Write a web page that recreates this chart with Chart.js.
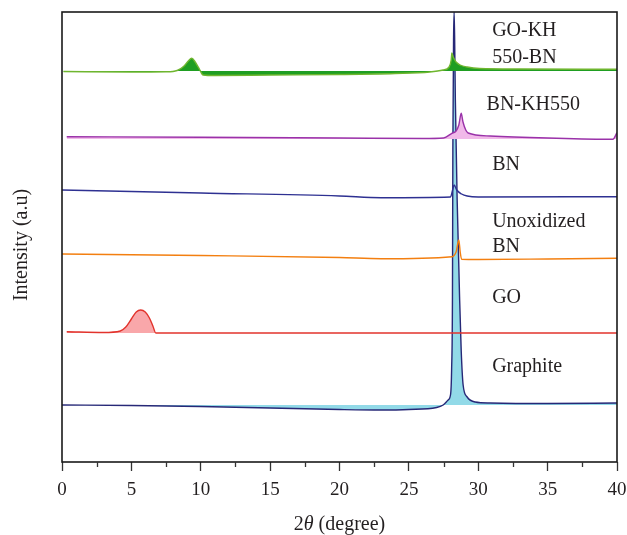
<!DOCTYPE html>
<html>
<head>
<meta charset="utf-8">
<script src="https://cdn.jsdelivr.net/npm/chart.js@4.4.1/dist/chart.umd.min.js"></script>
<style>
  html, body { margin: 0; padding: 0; background: #fff; }
  #wrap { width: 627px; height: 535px; position: relative; }
</style>
</head>
<body>
<div id="wrap"><canvas id="c" width="627" height="535"></canvas></div>
<script>
// ---- Data (2θ in degrees, intensity in arbitrary offset units) ----
const seriesNames = ["GO-KH550-BN", "BN-KH550", "BN", "Unoxidized BN", "GO", "Graphite"];

const goKhBnX = [0.1, 5, 7.5, 8.3, 8.8, 9.1, 9.35, 9.6, 9.9, 10.17, 11, 15, 20, 24, 26.5, 27.47, 27.9, 28.05, 28.1, 28.2, 28.4, 28.7, 29.2, 30.1, 33, 40];
const goKhBnY = [390.5, 390, 390.2, 391.5, 396, 401, 403.7, 400, 393, 387, 386.5, 387, 387.5, 388.5, 390, 392, 395, 402, 409, 405, 400, 397, 395, 393.5, 393, 392.7];
const goKhBnBase = 391;

const bnKhX = [0.34, 10, 20, 26, 27.5, 28.1, 28.4, 28.6, 28.77, 28.9, 29.1, 29.27, 30.86, 35, 39.7, 40];
const bnKhY = [325.3, 324.7, 324, 323.5, 324, 328.7, 331, 337, 348.7, 340, 332, 329, 326, 324, 322.7, 329.3];
const bnKhBase = 323;

const bnX = [0, 10, 20, 23, 28.0, 28.15, 28.26, 28.45, 28.8, 29.2, 30, 40];
const bnY = [272, 269, 266, 264.3, 265, 272, 277, 272, 268, 266, 265, 265.3];

const unoxX = [0, 10, 20, 23, 28.1, 28.4, 28.6, 28.7, 28.8, 30, 35, 40];
const unoxY = [208, 206.5, 204.5, 203.3, 205.3, 210, 222, 210, 202.7, 202.5, 203, 203.7];

const goX = [0.34, 3.0, 4.2, 4.6, 5.0, 5.35, 5.67, 6.0, 6.3, 6.55, 6.76, 10, 40];
const goY = [130.3, 129.5, 131, 135, 143, 150, 152, 150, 144, 136, 129, 129, 129];
const goBase = 129;

const graphiteX = [0, 5, 10, 15, 20, 23, 25, 27, 27.47, 27.83, 28.01, 28.08, 28.14, 28.17, 28.22, 28.26, 28.3, 28.35, 28.48, 28.66, 28.77, 28.91, 29.2, 29.78, 30.86, 35, 40];
const graphiteY = [57, 56.5, 55.5, 54, 52.5, 52, 52.5, 54.5, 57, 62, 68, 92, 162, 312, 422, 450, 422, 362, 262, 162, 112, 77, 65, 60, 59, 58.5, 59];
const graphiteBase = 57;

// Curve labels: text, x (degree), y (intensity units, text baseline)
const labelTexts = ["GO-KH", "550-BN", "BN-KH550", "BN", "Unoxidized", "BN", "GO", "Graphite"];
const labelX = [31.0, 31.0, 30.6, 31.0, 31.0, 31.0, 31.0, 31.0];
const labelY = [426, 399, 352, 292, 235.3, 210.3, 159, 90.3];

const xTicks = [0, 5, 10, 15, 20, 25, 30, 35, 40];
const xMinorTicks = [2.5, 7.5, 12.5, 17.5, 22.5, 27.5, 32.5, 37.5];

const xTitleParts = ["2", "θ", " (degree)"];
const yTitle = "Intensity (a.u)";

// ---- Build ----
function pts(xs, ys) { return xs.map((x, i) => ({ x: x, y: ys[i] })); }
const SERIF = '"Liberation Serif", "DejaVu Serif", serif';
const INK = '#231f20';

function ds(label, xs, ys, color, width, fill) {
  return {
    label: label,
    data: pts(xs, ys),
    borderColor: color,
    borderWidth: width,
    backgroundColor: fill ? fill.color : 'transparent',
    fill: fill ? { value: fill.base } : false,
    pointRadius: 0,
    cubicInterpolationMode: 'monotone',
    tension: 0.4
  };
}

const datasets = [
  ds(seriesNames[0], goKhBnX, goKhBnY, '#6fb62f', 1.4, { color: '#1f9e22', base: goKhBnBase }),
  ds(seriesNames[1], bnKhX, bnKhY, '#9a32a9', 1.4, { color: '#f1b9e9', base: bnKhBase }),
  ds(seriesNames[2], bnX, bnY, '#2e3192', 1.4, null),
  ds(seriesNames[3], unoxX, unoxY, '#f37f10', 1.4, null),
  ds(seriesNames[4], goX, goY, '#e2332c', 1.4, { color: '#f9a7aa', base: goBase }),
  ds(seriesNames[5], graphiteX, graphiteY, '#272877', 1.4, { color: '#92dae8', base: graphiteBase })
];

const decor = {
  id: 'decor',
  afterDraw(chart) {
    const ctx = chart.ctx;
    const a = chart.chartArea;
    const xs = chart.scales.x, ys = chart.scales.y;
    ctx.save();
    // frame
    ctx.strokeStyle = '#1a1a1a';
    ctx.lineWidth = 1.6;
    ctx.strokeRect(a.left, a.top, a.right - a.left, a.bottom - a.top);
    // minor ticks
    ctx.lineWidth = 1.3;
    ctx.strokeStyle = '#333';
    xMinorTicks.forEach(v => {
      const px = Math.round(xs.getPixelForValue(v)) + 0.5;
      ctx.beginPath();
      ctx.moveTo(px, a.bottom);
      ctx.lineTo(px, a.bottom + 5);
      ctx.stroke();
    });
    // curve labels
    ctx.fillStyle = INK;
    ctx.font = '20px ' + SERIF;
    ctx.textBaseline = 'alphabetic';
    ctx.textAlign = 'left';
    labelTexts.forEach((t, i) => {
      ctx.fillText(t, xs.getPixelForValue(labelX[i]), ys.getPixelForValue(labelY[i]));
    });
    // x title with italic theta
    const fonts = ['20px ' + SERIF, 'italic 20px ' + SERIF, '20px ' + SERIF];
    let total = 0;
    const widths = xTitleParts.map((p, i) => { ctx.font = fonts[i]; const w = ctx.measureText(p).width; total += w; return w; });
    let cx = (a.left + a.right) / 2 - total / 2;
    ctx.textBaseline = 'alphabetic';
    xTitleParts.forEach((p, i) => { ctx.font = fonts[i]; ctx.fillText(p, cx, 530); cx += widths[i]; });
    // y title
    ctx.translate(22, 245);
    ctx.rotate(-Math.PI / 2);
    ctx.font = '20px ' + SERIF;
    ctx.textAlign = 'center';
    ctx.textBaseline = 'middle';
    ctx.fillText(yTitle, 0, 0);
    ctx.restore();
  }
};

new Chart(document.getElementById('c'), {
  type: 'line',
  data: { datasets: datasets },
  options: {
    responsive: false,
    animation: false,
    layout: { padding: { left: 62, right: 10, top: 12, bottom: 0 } },
    plugins: { legend: { display: false }, tooltip: { enabled: false } },
    scales: {
      x: {
        type: 'linear',
        min: 0, max: 40,
        afterBuildTicks: s => { s.ticks = xTicks.concat(xMinorTicks).sort((p, q) => p - q).map(v => ({ value: v })); },
        afterFit: s => { s.height = 73; s.paddingLeft = 0; s.paddingRight = 0; },
        ticks: {
          autoSkip: false,
          maxRotation: 0,
          padding: 8,
          color: INK,
          font: { family: SERIF, size: 19 },
          callback: v => (xTicks.includes(v) ? String(v) : '')
        },
        grid: {
          display: true,
          drawOnChartArea: false,
          drawTicks: true,
          tickLength: 9,
          tickWidth: 1.3,
          tickColor: c => (c.tick && xTicks.includes(c.tick.value) ? '#333' : 'rgba(0,0,0,0)')
        },
        border: { display: false }
      },
      y: {
        type: 'linear',
        min: 0, max: 450,
        display: false
      }
    }
  },
  plugins: [decor]
});
</script>
</body>
</html>
